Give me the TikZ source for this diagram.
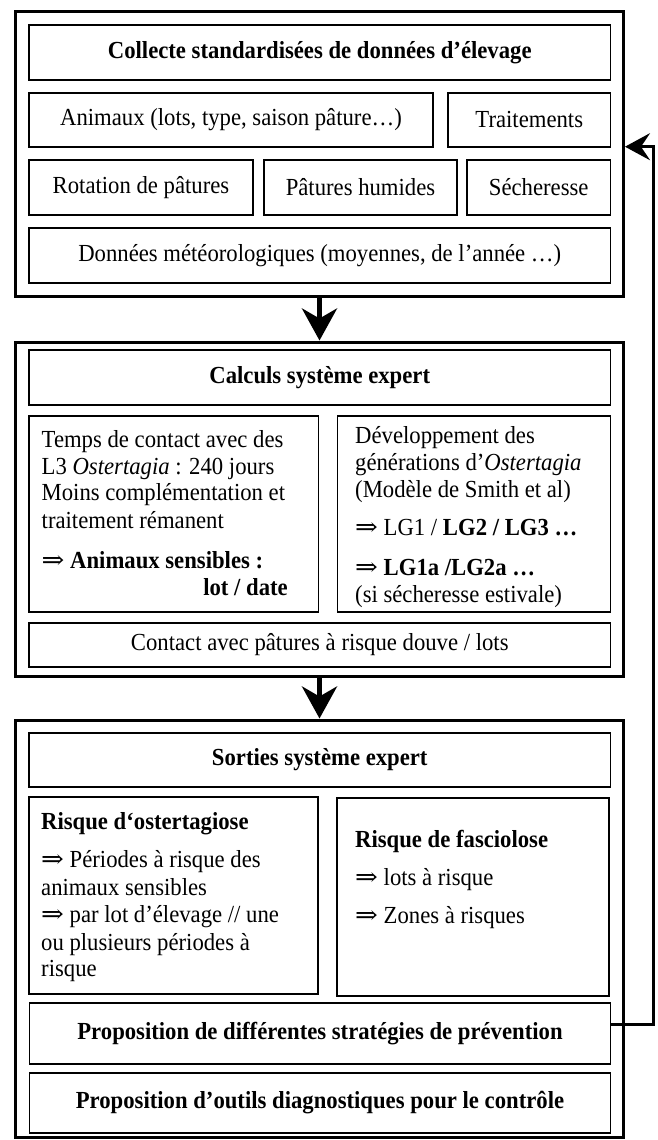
\documentclass[tikz,border=0pt]{standalone}
\usepackage{fontspec}
\setmainfont{Liberation Serif}
\newfontfamily\arrowfont{DejaVu Serif}
\usetikzlibrary{arrows.meta}
\newcommand{\imp}{{\arrowfont\fontsize{22.7}{26}\selectfont\scalebox{1.2}[1]{⇒}}}
\newcommand{\vs}[1]{\scalebox{1}[1.08]{#1}}
\begin{document}
\begin{tikzpicture}[x=1pt,y=-1pt,
  every node/.style={font=\fontsize{22.7}{26.7}\selectfont, inner sep=0pt},
  outerbox/.style={draw, line width=3pt, inner sep=0pt},
  inbox/.style={draw, line width=1.8pt, inner sep=0pt},
  txt/.style={anchor=base west},
  bigarrow/.style={line width=5pt, -{Stealth[length=32pt,width=35pt,inset=10pt]}},
  fbarrow/.style={line width=3pt, -{Stealth[length=25pt,width=27pt,inset=9pt]}}
]
\useasboundingbox (0,0) rectangle (657,1140);
% ---- block 1
\node[outerbox, minimum width=608pt, minimum height=285.2pt] (o1) at (319.5,153.9) {};
\node[inbox, minimum width=581.5pt, minimum height=55pt] (collecte) at (319.75,52.5) {\vs{\textbf{Collecte standardisées de données d’élevage}}};
\node[inbox, minimum width=404pt, minimum height=54pt] (animaux) at (231,120) {\vs{Animaux (lots, type, saison pâture…)}};
\node[inbox, minimum width=162.5pt, minimum height=54pt] (trait) at (529.25,120) {\vs{Traitements}};
\node[inbox, minimum width=224pt, minimum height=55pt] (rot) at (141,187.5) {\vs{Rotation de pâtures}};
\node[inbox, minimum width=193pt, minimum height=55pt] (hum) at (360.5,187.5) {\vs{Pâtures humides}};
\node[inbox, minimum width=143.5pt, minimum height=55pt] (sech) at (538.75,187.5) {\vs{Sécheresse}};
\node[inbox, minimum width=581.5pt, minimum height=55pt] (meteo) at (319.75,255.5) {\vs{Données météorologiques (moyennes, de l’année …)}};
% ---- block 2
\node[outerbox, minimum width=608pt, minimum height=334pt] (o2) at (319.5,509) {};
\node[inbox, minimum width=581.5pt, minimum height=55pt] (calc) at (319.75,377.5) {\vs{\textbf{Calculs système expert}}};
\node[inbox, minimum width=289.5pt, minimum height=196pt] (cl) at (173.75,514) {};
\node[inbox, minimum width=273pt, minimum height=196pt] (cr) at (474,514) {};
\node[inbox, minimum width=581.5pt, minimum height=44pt] (contact) at (319.75,645) {\vs{Contact avec pâtures à risque douve / lots}};
\node[txt] (cl1) at (41.5,447) {\vs{Temps de contact avec des}};
\node[txt] (cl2) at (41.5,474) {\vs{L3 \textit{Ostertagia} : 240 jours}};
\node[txt] (cl3) at (41.5,500.5) {\vs{Moins complémentation et}};
\node[txt] (cl4) at (41.5,528) {\vs{traitement rémanent}};
\node[txt] (cl5) at (41.5,568) {\vs{\imp\ \textbf{Animaux sensibles :}}};
\node[anchor=base east] (cl6) at (288,595) {\vs{\textbf{lot / date}}};
\node[txt] (cr1) at (355,443) {\vs{Développement des}};
\node[txt] (cr2) at (355,470) {\vs{générations d’\textit{Ostertagia}}};
\node[txt] (cr3) at (355,497) {\vs{(Modèle de Smith et al)}};
\node[txt] (cr4) at (355,535) {\vs{\imp\ LG1 / \textbf{LG2 / LG3 …}}};
\node[txt] (cr5) at (355,575) {\vs{\imp\ \textbf{LG1a /LG2a …}}};
\node[txt] (cr6) at (355,602) {\vs{(si sécheresse estivale)}};
% ---- block 3
\node[outerbox, minimum width=608pt, minimum height=417pt] (o3) at (319.5,928.5) {};
\node[inbox, minimum width=581.5pt, minimum height=54pt] (sorties) at (319.75,760) {\vs{\textbf{Sorties système expert}}};
\node[inbox, minimum width=289pt, minimum height=197pt] (sl) at (173.5,895.5) {};
\node[inbox, minimum width=272pt, minimum height=198pt] (sr) at (473,897) {};
\node[inbox, minimum width=581pt, minimum height=61pt] (prev) at (320,1033.5) {\vs{\textbf{Proposition de différentes stratégies de prévention}}};
\node[inbox, minimum width=581pt, minimum height=60pt] (outils) at (320,1103) {\vs{\textbf{Proposition d’outils diagnostiques pour le contrôle}}};
\node[txt] (sl1) at (41,829.5) {\vs{\textbf{Risque d‘ostertagiose}}};
\node[txt] (sl2) at (41,867.5) {\vs{\imp\ Périodes à risque des}};
\node[txt] (sl3) at (41,895) {\vs{animaux sensibles}};
\node[txt] (sl4) at (41,922.5) {\vs{\imp\ par lot d’élevage // une}};
\node[txt] (sl5) at (41,950.5) {\vs{ou plusieurs périodes à}};
\node[txt] (sl6) at (41,976.5) {\vs{risque}};
\node[txt] (sr1) at (355,847) {\vs{\textbf{Risque de fasciolose}}};
\node[txt] (sr2) at (355,885) {\vs{\imp\ lots à risque}};
\node[txt] (sr3) at (355,923) {\vs{\imp\ Zones à risques}};
% ---- connectors
\draw[bigarrow] (o1.south) -- (o2.north);
\draw[bigarrow] (o2.south) -- (o3.north);
\draw[fbarrow] ([yshift=9.5pt]prev.east) -- ++(42,0) |- ([yshift=7.2pt]o1.east);
\end{tikzpicture}
\end{document}
